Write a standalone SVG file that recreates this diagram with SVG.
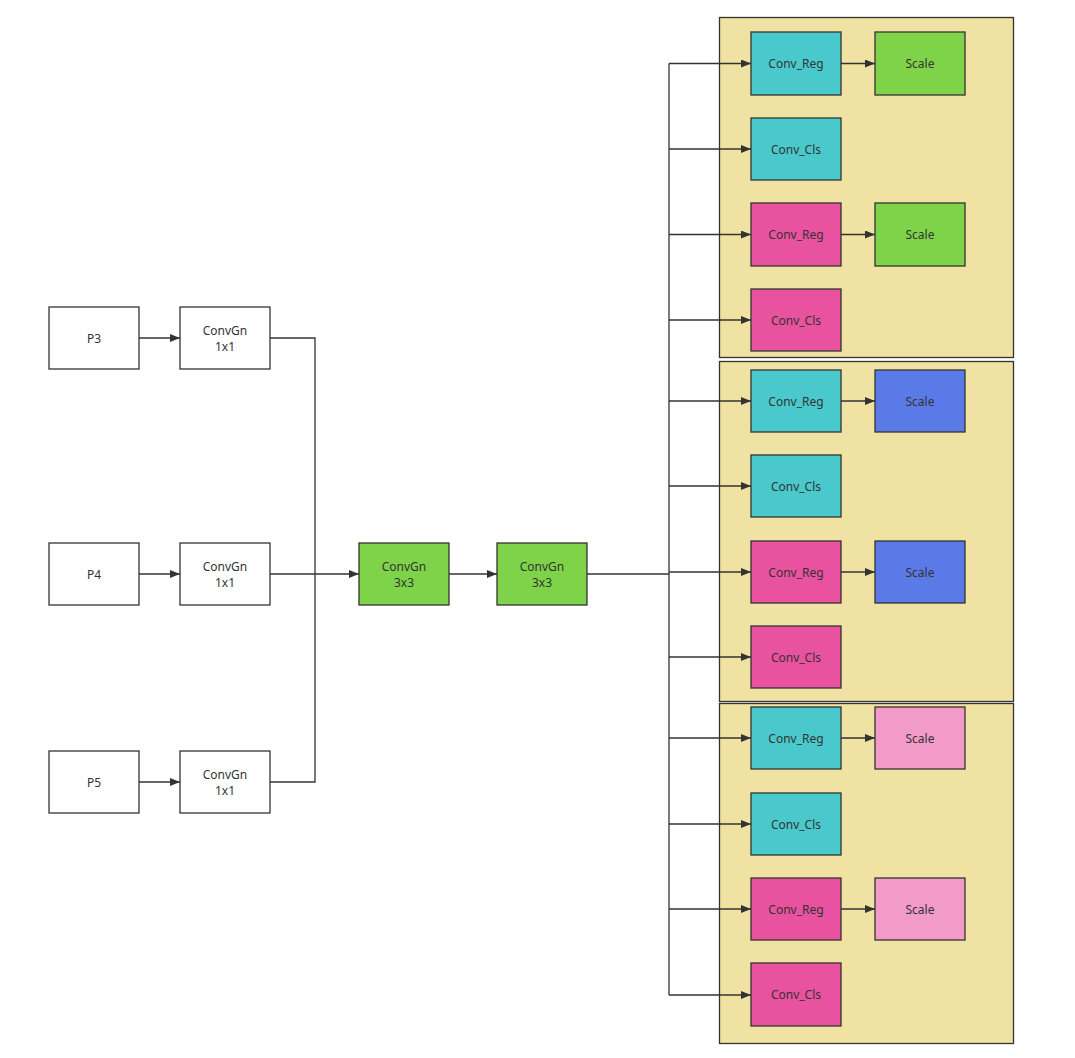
<svg xmlns="http://www.w3.org/2000/svg" width="1075" height="1058" viewBox="0 0 1075 1058">
<defs>
<marker id="ah" viewBox="0 0 10 8" refX="10" refY="4" markerWidth="10" markerHeight="8" markerUnits="userSpaceOnUse" orient="auto">
<path d="M0,0 L10,4 L0,8 Z" fill="#333"/>
</marker>
<style>
.n{stroke:#333;stroke-width:1.3}
.w{fill:#fff}
.g{fill:#7ed348}
.c{fill:#4ac9cc}
.p{fill:#e8529f}
.b{fill:#5a7ae8}
.lp{fill:#f29ac8}
.box{fill:#f0e2a2;stroke:#333;stroke-width:1.3}
text{font-family:"Noto Sans","DejaVu Sans",sans-serif;font-size:12px;fill:#333;text-anchor:middle;dominant-baseline:central}
.e{fill:none;stroke:#333;stroke-width:1.3}
.ea{fill:none;stroke:#333;stroke-width:1.3;marker-end:url(#ah)}
</style>
</defs>
<rect width="1075" height="1058" fill="#fff"/>
<g id="containers">
<rect class="box" x="719.5" y="17.5" width="294" height="340"/>
<rect class="box" x="719.5" y="361.5" width="294" height="340"/>
<rect class="box" x="719.5" y="703.5" width="294" height="340"/>
</g>
<g id="connectors">
<path class="ea" d="M139,338 H180"/>
<path class="ea" d="M139,574 H180"/>
<path class="ea" d="M139,782 H180"/>
<path class="e" d="M270,338 H315 V782 H270"/>
<path class="ea" d="M270,574 H359"/>
<path class="ea" d="M449,574 H497"/>
<path class="e" d="M587,574 H669"/>
<path class="e" d="M669,63.5 V995"/>
<path class="ea" d="M669,63.5 H751"/>
<path class="ea" d="M669,149 H751"/>
<path class="ea" d="M669,234.5 H751"/>
<path class="ea" d="M669,320 H751"/>
<path class="ea" d="M669,401 H751"/>
<path class="ea" d="M669,486 H751"/>
<path class="ea" d="M669,572 H751"/>
<path class="ea" d="M669,657 H751"/>
<path class="ea" d="M669,738 H751"/>
<path class="ea" d="M669,824 H751"/>
<path class="ea" d="M669,909 H751"/>
<path class="ea" d="M669,995 H751"/>
<path class="ea" d="M841,63.5 H875"/>
<path class="ea" d="M841,234.5 H875"/>
<path class="ea" d="M841,401 H875"/>
<path class="ea" d="M841,572 H875"/>
<path class="ea" d="M841,738 H875"/>
<path class="ea" d="M841,909 H875"/>
</g>
<g id="p3"><rect class="n w" x="49" y="307" width="90" height="62"/><text x="94" y="338">P3</text></g>
<g id="p4"><rect class="n w" x="49" y="543" width="90" height="62"/><text x="94" y="574">P4</text></g>
<g id="p5"><rect class="n w" x="49" y="751" width="90" height="62"/><text x="94" y="782">P5</text></g>
<g id="cg1"><rect class="n w" x="180" y="307" width="90" height="62"/><text x="225" y="330">ConvGn</text><text x="225" y="346">1x1</text></g>
<g id="cg2"><rect class="n w" x="180" y="543" width="90" height="62"/><text x="225" y="566">ConvGn</text><text x="225" y="582">1x1</text></g>
<g id="cg3"><rect class="n w" x="180" y="751" width="90" height="62"/><text x="225" y="774">ConvGn</text><text x="225" y="790">1x1</text></g>
<g id="cg33a"><rect class="n g" x="359" y="543" width="90" height="62"/><text x="404" y="566">ConvGn</text><text x="404" y="582">3x3</text></g>
<g id="cg33b"><rect class="n g" x="497" y="543" width="90" height="62"/><text x="542" y="566">ConvGn</text><text x="542" y="582">3x3</text></g>
<g id="r1"><rect class="n c" x="751" y="32" width="90" height="63"/><text x="796" y="63.5">Conv_Reg</text></g>
<g id="s1"><rect class="n g" x="875" y="32" width="90" height="63"/><text x="920" y="63.5">Scale</text></g>
<g id="c1"><rect class="n c" x="751" y="118" width="90" height="62"/><text x="796" y="149">Conv_Cls</text></g>
<g id="r2"><rect class="n p" x="751" y="203" width="90" height="63"/><text x="796" y="234.5">Conv_Reg</text></g>
<g id="s2"><rect class="n g" x="875" y="203" width="90" height="63"/><text x="920" y="234.5">Scale</text></g>
<g id="c2"><rect class="n p" x="751" y="289" width="90" height="62"/><text x="796" y="320">Conv_Cls</text></g>
<g id="r3"><rect class="n c" x="751" y="370" width="90" height="62"/><text x="796" y="401">Conv_Reg</text></g>
<g id="s3"><rect class="n b" x="875" y="370" width="90" height="62"/><text x="920" y="401">Scale</text></g>
<g id="c3"><rect class="n c" x="751" y="455" width="90" height="62"/><text x="796" y="486">Conv_Cls</text></g>
<g id="r4"><rect class="n p" x="751" y="541" width="90" height="62"/><text x="796" y="572">Conv_Reg</text></g>
<g id="s4"><rect class="n b" x="875" y="541" width="90" height="62"/><text x="920" y="572">Scale</text></g>
<g id="c4"><rect class="n p" x="751" y="626" width="90" height="62"/><text x="796" y="657">Conv_Cls</text></g>
<g id="r5"><rect class="n c" x="751" y="707" width="90" height="62"/><text x="796" y="738">Conv_Reg</text></g>
<g id="s5"><rect class="n lp" x="875" y="707" width="90" height="62"/><text x="920" y="738">Scale</text></g>
<g id="c5"><rect class="n c" x="751" y="793" width="90" height="62"/><text x="796" y="824">Conv_Cls</text></g>
<g id="r6"><rect class="n p" x="751" y="878" width="90" height="62"/><text x="796" y="909">Conv_Reg</text></g>
<g id="s6"><rect class="n lp" x="875" y="878" width="90" height="62"/><text x="920" y="909">Scale</text></g>
<g id="c6"><rect class="n p" x="751" y="963" width="90" height="63"/><text x="796" y="994.5">Conv_Cls</text></g>
</svg>
